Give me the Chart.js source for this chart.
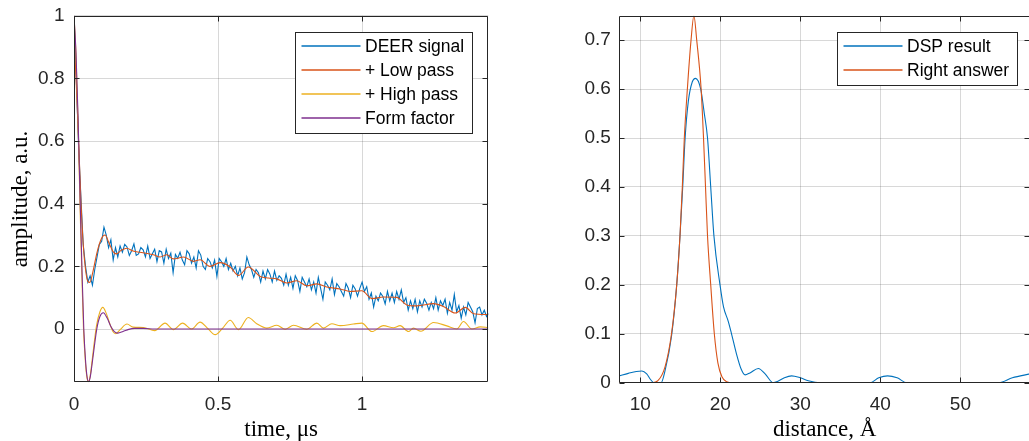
<!DOCTYPE html>
<html>
<head>
<meta charset="utf-8">
<script src="https://cdn.jsdelivr.net/npm/chart.js@4.4.1/dist/chart.umd.min.js"></script>
<style>
  html, body { margin: 0; padding: 0; background: #fff; overflow: hidden; width: 1029px; height: 441px; }
  #leftBox { position: absolute; left: 0; top: 0; width: 500px; height: 441px; }
  #rightBox { position: absolute; left: 560px; top: 0; width: 472px; height: 441px; }
</style>
</head>
<body>
<div id="leftBox"><canvas id="deerChart" width="500" height="441"></canvas></div>
<div id="rightBox"><canvas id="distChart" width="472" height="441"></canvas></div>
<script>
// ---- time domain (left panel) ----
const deerStep = 0.008; // sampling step, us
const deerSignal = [
    1.00, 0.80, 0.58, 0.42, 0.27, 0.20, 0.15, 0.17, 0.14, 0.19,
    0.23, 0.27, 0.28, 0.325, 0.30, 0.26, 0.285, 0.22, 0.26, 0.23,
    0.265, 0.245, 0.27, 0.262, 0.235, 0.25, 0.272, 0.235, 0.24, 0.26,
    0.253, 0.23, 0.265, 0.225, 0.24, 0.255, 0.215, 0.25, 0.246, 0.21,
    0.255, 0.225, 0.242, 0.18, 0.238, 0.226, 0.245, 0.22, 0.205, 0.25,
    0.24, 0.21, 0.23, 0.195, 0.25, 0.236, 0.20, 0.19, 0.225, 0.215,
    0.195, 0.22, 0.168, 0.225, 0.215, 0.20, 0.225, 0.19, 0.21, 0.185,
    0.20, 0.17, 0.195, 0.16, 0.18, 0.23, 0.205, 0.19, 0.165, 0.19,
    0.18, 0.15, 0.185, 0.16, 0.19, 0.175, 0.15, 0.185, 0.155, 0.17,
    0.162, 0.14, 0.175, 0.14, 0.165, 0.13, 0.17, 0.155, 0.12, 0.165,
    0.15, 0.135, 0.16, 0.125, 0.15, 0.115, 0.165, 0.13, 0.095, 0.15,
    0.14, 0.125, 0.16, 0.11, 0.145, 0.135, 0.12, 0.105, 0.145, 0.13,
    0.10, 0.14, 0.128, 0.105, 0.13, 0.15, 0.12, 0.135, 0.095, 0.115,
    0.07, 0.105, 0.09, 0.115, 0.104, 0.08, 0.12, 0.09, 0.115, 0.085,
    0.12, 0.095, 0.125, 0.085, 0.10, 0.06, 0.09, 0.065, 0.095, 0.055,
    0.09, 0.07, 0.095, 0.082, 0.06, 0.085, 0.065, 0.10, 0.06, 0.09,
    0.075, 0.095, 0.05, 0.085, 0.06, 0.11, 0.055, 0.075, 0.035, 0.07,
    0.045, 0.085, 0.07, 0.055, 0.02, 0.065, 0.07, 0.045, 0.06, 0.04, 0.05
];

const lowPassT = [0, 0.008, 0.016, 0.024, 0.032, 0.04, 0.048, 0.055, 0.065, 0.08, 0.095, 0.108, 0.12, 0.135, 0.146,
    0.165, 0.183, 0.205, 0.229, 0.255, 0.275, 0.299, 0.322, 0.345, 0.357, 0.38, 0.415, 0.4375, 0.472, 0.507,
    0.542, 0.571, 0.605, 0.646, 0.675, 0.704, 0.738, 0.773, 0.808, 0.843, 0.877, 0.924, 0.958, 0.999, 1.034,
    1.074, 1.12, 1.155, 1.19, 1.248, 1.282, 1.323, 1.358, 1.387, 1.438];
const lowPassV = [0.94, 0.78, 0.60, 0.41, 0.27, 0.19, 0.152, 0.149, 0.18, 0.245, 0.288, 0.30, 0.278, 0.248, 0.24,
    0.252, 0.258, 0.249, 0.245, 0.241, 0.237, 0.23, 0.237, 0.224, 0.225, 0.23, 0.216, 0.221, 0.20, 0.212,
    0.198, 0.171, 0.198, 0.168, 0.163, 0.16, 0.147, 0.154, 0.138, 0.144, 0.134, 0.128, 0.12, 0.122, 0.097,
    0.102, 0.101, 0.077, 0.074, 0.081, 0.072, 0.051, 0.069, 0.049, 0.046];

const highPassT = [0, 0.007, 0.014, 0.021, 0.028, 0.033, 0.04, 0.045, 0.05, 0.056, 0.063, 0.07, 0.078, 0.09, 0.1,
    0.112, 0.125, 0.135, 0.145, 0.16, 0.184, 0.205, 0.241, 0.28, 0.316, 0.345, 0.377, 0.408, 0.4375, 0.466,
    0.49, 0.516, 0.542, 0.571, 0.605, 0.634, 0.669, 0.704, 0.733, 0.762, 0.808, 0.843, 0.866, 0.895, 0.924,
    0.97, 0.999, 1.034, 1.074, 1.109, 1.132, 1.161, 1.178, 1.204, 1.248, 1.294, 1.329, 1.352, 1.381, 1.41, 1.438];
const highPassV = [1.0, 0.87, 0.66, 0.39, 0.15, 0.0, -0.11, -0.155, -0.168, -0.15, -0.1, -0.045, 0.01, 0.055, 0.069,
    0.05, 0.015, -0.008, -0.015, -0.002, 0.016, 0.006, 0.005, -0.005, 0.019, -0.002, 0.019, 0.0, 0.022, 0.0,
    -0.018, 0.003, 0.028, -0.002, 0.037, 0.017, 0.003, 0.012, -0.001, 0.012, -0.001, 0.019, 0.003, 0.017, 0.011,
    0.016, 0.019, -0.008, 0.011, 0.004, 0.011, -0.008, 0.003, -0.007, 0.021, 0.01, 0.0, 0.024, 0.0, 0.007, 0.005];

const formFactorT = [0, 0.007, 0.014, 0.021, 0.028, 0.034, 0.04, 0.045, 0.05, 0.056, 0.063, 0.07, 0.079, 0.09,
    0.102, 0.115, 0.128, 0.14, 0.152, 0.17, 0.19, 0.21, 0.24, 0.28, 1.438];
const formFactorV = [1.0, 0.88, 0.68, 0.42, 0.18, 0.0, -0.1, -0.15, -0.168, -0.155, -0.11, -0.06, 0.0, 0.04,
    0.052, 0.035, 0.008, -0.008, -0.013, -0.008, -0.001, 0.002, 0.002, 0.0, 0.0];

const timeTicks = [0, 0.5, 1];
const timeTickLabels = ['0', '0.5', '1'];
const ampTicks = [0, 0.2, 0.4, 0.6, 0.8, 1];
const ampTickLabels = ['0', '0.2', '0.4', '0.6', '0.8', '1'];

// ---- distance domain (right panel) ----
const dspR = [7.375, 8.5, 9.5, 10.2, 10.8, 11.3, 11.7, 12.6, 13.1, 13.9, 14.55, 14.96, 15.3, 15.6, 16.0, 16.5,
    16.9, 17.55, 18.0, 18.4, 18.8, 19.2, 19.96, 20.4, 21.0, 21.4, 22.0, 22.6, 23.1, 23.7, 24.75, 25.6, 26.6,
    27.2, 28.0, 28.9, 30, 31, 32.5, 38.7, 39.8, 40.9, 42.1, 43.3, 54.8, 56.5, 58.7];
const dspP = [0.014, 0.019, 0.023, 0.024, 0.018, 0.006, 0, 0, 0.025, 0.095, 0.2, 0.3, 0.4, 0.5, 0.575, 0.615,
    0.622, 0.6, 0.55, 0.5, 0.4, 0.3, 0.2, 0.155, 0.125, 0.1, 0.06, 0.028, 0.016, 0.02, 0.029, 0.018, 0,
    0.003, 0.01, 0.014, 0.01, 0.004, 0, 0, 0.01, 0.014, 0.01, 0, 0, 0.01, 0.018];

const trueR = [7.375, 11.5, 12.2, 13.1, 13.9, 14.55, 14.96, 15.25, 15.5, 15.88, 16.34, 16.7, 17.05, 17.6, 17.9,
    18.15, 18.4, 18.8, 19.25, 19.7, 20.2, 20.8, 21.5, 58.7];
const trueP = [0, 0, 0.004, 0.033, 0.1, 0.2, 0.3, 0.4, 0.5, 0.6, 0.7, 0.75, 0.7, 0.6, 0.5,
    0.4, 0.3, 0.2, 0.1, 0.04, 0.012, 0.002, 0, 0];

const distTicks = [10, 20, 30, 40, 50];
const distTickLabels = ['10', '20', '30', '40', '50'];
const probTicks = [0, 0.1, 0.2, 0.3, 0.4, 0.5, 0.6, 0.7];
const probTickLabels = ['0', '0.1', '0.2', '0.3', '0.4', '0.5', '0.6', '0.7'];

const MBLUE = '#0072BD', MORANGE = '#D95319', MYELLOW = '#EDB120', MPURPLE = '#7E2F8E';
const AXIS = '#262626';
const GRID = 'rgba(38,38,38,0.18)';
const SANS = '"Liberation Sans", Arial, sans-serif';
const SERIF = '"Liberation Serif", "Times New Roman", serif';

function pairs(xs, ys) {
    return xs.map((x, i) => ({ x: x, y: ys[i] }));
}

// box around the axes with inward ticks, like MATLAB
const axesBox = {
    id: 'axesBox',
    afterDatasetsDraw(chart) {
        const { ctx, chartArea: a, scales } = chart;
        const tl = 5;
        const l = Math.round(a.left) + 0.5, r = Math.round(a.right) - 0.5;
        const t = Math.round(a.top) + 0.5, b = Math.round(a.bottom) - 0.5;
        ctx.save();
        ctx.strokeStyle = AXIS;
        ctx.lineWidth = 1;
        ctx.beginPath();
        ctx.rect(l, t, r - l, b - t);
        scales.x.ticks.forEach(tk => {
            const p = Math.round(scales.x.getPixelForValue(tk.value)) + 0.5;
            ctx.moveTo(p, b); ctx.lineTo(p, b - tl);
            ctx.moveTo(p, t); ctx.lineTo(p, t + tl);
        });
        scales.y.ticks.forEach(tk => {
            const p = Math.round(scales.y.getPixelForValue(tk.value)) + 0.5;
            ctx.moveTo(l, p); ctx.lineTo(l + tl, p);
            ctx.moveTo(r, p); ctx.lineTo(r - tl, p);
        });
        ctx.stroke();
        ctx.restore();
    }
};

// legend box in the top right corner of the axes
const boxLegend = {
    id: 'boxLegend',
    afterDraw(chart, args, opts) {
        const { ctx, chartArea: a } = chart;
        const sets = chart.data.datasets;
        ctx.save();
        ctx.font = '17.5px ' + SANS;
        const textW = Math.max(...sets.map(d => ctx.measureText(d.label).width));
        const lineLen = 59, padL = 6, gap = 4.5, padR = 8, rowH = 24;
        const w = Math.round(padL + lineLen + gap + textW + padR);
        const h = sets.length * rowH + 5;
        const left = Math.round(a.right - opts.right - w) + 0.5;
        const top = Math.round(a.top + opts.top) + 0.5;
        ctx.fillStyle = '#fff';
        ctx.fillRect(left, top, w, h);
        ctx.strokeStyle = AXIS;
        ctx.lineWidth = 1;
        ctx.strokeRect(left, top, w, h);
        sets.forEach((d, i) => {
            const cy = top + 15 + i * rowH;
            ctx.strokeStyle = d.borderColor;
            ctx.lineWidth = 1.4;
            ctx.beginPath();
            ctx.moveTo(left + padL, cy - 1.5);
            ctx.lineTo(left + padL + lineLen, cy - 1.5);
            ctx.stroke();
            ctx.fillStyle = '#000';
            ctx.textBaseline = 'middle';
            ctx.textAlign = 'left';
            ctx.fillText(d.label, left + padL + lineLen + gap, cy);
        });
        ctx.restore();
    }
};

function lineSet(label, data, color, order, straight) {
    return {
        label: label,
        data: data,
        borderColor: color,
        backgroundColor: color,
        borderWidth: 1.1,
        pointRadius: 0,
        fill: false,
        order: order,
        tension: straight ? 0 : 0.4,
        cubicInterpolationMode: straight ? 'default' : 'monotone'
    };
}

function axisOptions(min, max, ticks, labels, width, height, pad, title, titlePad) {
    return {
        type: 'linear',
        min: min,
        max: max,
        afterBuildTicks: scale => { scale.ticks = ticks.map(v => ({ value: v })); },
        afterFit: scale => {
            if (width !== null) scale.width = width;
            if (height !== null) scale.height = height;
            // labels may overhang the plot box, as in MATLAB
            scale.paddingTop = 0;
            scale.paddingBottom = 0;
            scale.paddingLeft = 0;
            scale.paddingRight = 0;
        },
        grid: { color: GRID, lineWidth: 1, drawTicks: false },
        border: { display: false },
        ticks: {
            color: AXIS,
            font: { family: SANS, size: 19 },
            padding: pad,
            autoSkip: false,
            maxRotation: 0,
            callback: (v, i) => labels[i]
        },
        title: {
            display: title !== null,
            text: title || '',
            color: '#000',
            font: { family: SERIF, size: 23, lineHeight: 1 },
            padding: titlePad
        }
    };
}

const deerData = [];
deerSignal.forEach((v, i) => deerData.push({ x: i * deerStep, y: v }));

new Chart(document.getElementById('deerChart'), {
    type: 'line',
    data: {
        datasets: [
            lineSet('DEER signal', deerData, MBLUE, 4, true),
            lineSet('+ Low pass', pairs(lowPassT, lowPassV), MORANGE, 3, false),
            lineSet('+ High pass', pairs(highPassT, highPassV), MYELLOW, 2, false),
            lineSet('Form factor', pairs(formFactorT, formFactorV), MPURPLE, 1, false)
        ]
    },
    options: {
        responsive: false,
        devicePixelRatio: 1,
        animation: false,
        events: [],
        layout: { padding: { top: 15.7, right: 11.7, bottom: 0, left: 0 } },
        plugins: {
            legend: { display: false },
            tooltip: { enabled: false },
            boxLegend: { right: 16, top: 16.3 }
        },
        scales: {
            x: axisOptions(0, 1.438, timeTicks, timeTickLabels, null, 58.7, 11, 'time, \u03bcs', { top: 0, bottom: 0 }),
            y: axisOptions(-0.17, 1, ampTicks, ampTickLabels, 74, null, 9.5, 'amplitude, a.u.', { top: 9, bottom: 0 })
        }
    },
    plugins: [axesBox, boxLegend]
});

new Chart(document.getElementById('distChart'), {
    type: 'line',
    data: {
        datasets: [
            lineSet('DSP result', pairs(dspR, dspP), MBLUE, 2, false),
            lineSet('Right answer', pairs(trueR, trueP), MORANGE, 1, false)
        ]
    },
    options: {
        responsive: false,
        devicePixelRatio: 1,
        animation: false,
        events: [],
        layout: { padding: { top: 15.7, right: 2, bottom: 0, left: 0 } },
        plugins: {
            legend: { display: false },
            tooltip: { enabled: false },
            boxLegend: { right: 12.7, top: 16.6 }
        },
        scales: {
            x: axisOptions(7.375, 58.7, distTicks, distTickLabels, null, 58.3, 11, 'distance, \u00c5', { top: 0, bottom: 0 }),
            y: axisOptions(0, 0.75, probTicks, probTickLabels, 59.3, null, 8.5, null, 0)
        }
    },
    plugins: [axesBox, boxLegend]
});
</script>
</body>
</html>
